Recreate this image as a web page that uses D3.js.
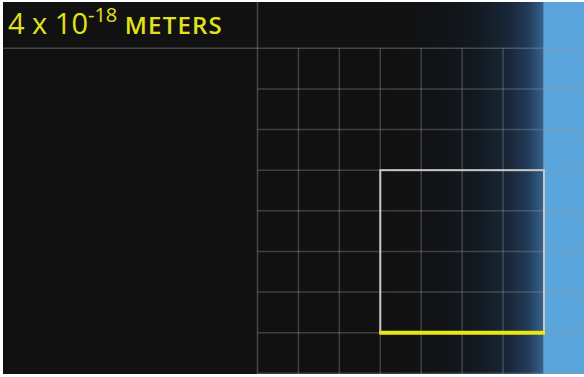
<!DOCTYPE html>
<html>
<head>
<meta charset="utf-8">
<script src="https://cdn.jsdelivr.net/npm/d3@7"></script>
<style>
  html, body { margin: 0; padding: 0; background: #ffffff; }
  svg { display: block; }
</style>
</head>
<body>
<div id="chart"></div>
<script>
// grid cells, counted from the divider line (column 0) and the header line (row 0)
var gridCols = [0, 1, 2, 3, 4, 5, 6, 7, 8];
var gridRows = [0, 1, 2, 3, 4, 5, 6, 7, 8];
// outlined square, in grid units
var boxCols = [3, 7];
var boxRows = [3, 7];
// fade from black into the blue band, column positions of each stop
var fadeCols = [3.2, 4.4, 5.4, 6.1, 6.6, 6.97, 7];
var fadeColors = ['#111111', '#111316', '#131a22', '#182637', '#223b57', '#34608c', '#5aa6dc'];
var titleMain = '4 x 10';
var titleExp = '-18';
var titleUnit = ' METERS';

var W = 584, H = 377;

var svg = d3.select('#chart').append('svg')
  .attr('width', W)
  .attr('height', H);

// outer white frame + dark panel
svg.append('rect').attr('width', W).attr('height', H).attr('fill', '#ffffff');
svg.append('rect')
  .attr('x', 3).attr('y', 2)
  .attr('width', W - 3).attr('height', H - 5)
  .attr('fill', '#111111');

var x = d3.scaleLinear().domain([0, 7]).range([257.5, 544]);
var y = d3.scaleLinear().domain([0, 8]).range([48.3, 373.3]);

// gradient band
var defs = svg.append('defs');
var grad = defs.append('linearGradient')
  .attr('id', 'fade')
  .attr('gradientUnits', 'userSpaceOnUse')
  .attr('x1', x(fadeCols[0])).attr('x2', x(fadeCols[fadeCols.length - 1]))
  .attr('y1', 0).attr('y2', 0);
grad.selectAll('stop').data(fadeCols).join('stop')
  .attr('offset', function(d) { return (d - fadeCols[0]) / (fadeCols[fadeCols.length - 1] - fadeCols[0]); })
  .attr('stop-color', function(d, i) { return fadeColors[i]; });

svg.append('rect')
  .attr('x', x(fadeCols[0])).attr('y', 2)
  .attr('width', x(fadeCols[fadeCols.length - 1]) - x(fadeCols[0]))
  .attr('height', H - 5)
  .attr('fill', 'url(#fade)');
svg.append('rect')
  .attr('x', x(7)).attr('y', 2)
  .attr('width', W - x(7)).attr('height', H - 5)
  .attr('fill', '#5aa6dc');

// grid lines
var g = svg.append('g').attr('class', 'grid');
g.selectAll('line.v').data(gridCols.slice(1)).join('line')
  .attr('class', 'v')
  .attr('x1', function(d) { return x(d); }).attr('x2', function(d) { return x(d); })
  .attr('y1', y(0)).attr('y2', H - 3)
  .attr('stroke', 'rgba(150,150,150,0.35)')
  .attr('stroke-width', 1.5);
g.selectAll('line.h').data(gridRows.slice(1)).join('line')
  .attr('class', 'h')
  .attr('x1', x(0)).attr('x2', W)
  .attr('y1', function(d) { return y(d); }).attr('y2', function(d) { return y(d); })
  .attr('stroke', 'rgba(150,150,150,0.35)')
  .attr('stroke-width', 1.5);

// header line and divider
svg.append('line')
  .attr('x1', 3).attr('x2', W)
  .attr('y1', y(0)).attr('y2', y(0))
  .attr('stroke', 'rgba(150,150,150,0.4)')
  .attr('stroke-width', 1.5);
svg.append('line')
  .attr('x1', x(0)).attr('x2', x(0))
  .attr('y1', 2).attr('y2', H - 3)
  .attr('stroke', 'rgba(150,150,150,0.4)')
  .attr('stroke-width', 1.5);

// outlined square
svg.append('rect')
  .attr('x', x(boxCols[0])).attr('y', y(boxRows[0]))
  .attr('width', x(boxCols[1]) - x(boxCols[0]))
  .attr('height', y(boxRows[1]) - y(boxRows[0]))
  .attr('fill', 'none')
  .attr('stroke', '#c8c8c8')
  .attr('stroke-width', 2);

// yellow scale bar
svg.append('line')
  .attr('x1', x(boxCols[0]) - 1).attr('x2', x(boxCols[1]) + 1)
  .attr('y1', y(boxRows[1])).attr('y2', y(boxRows[1]))
  .attr('stroke', '#e8e812')
  .attr('stroke-width', 4);

// title
var t = svg.append('text')
  .attr('x', 8).attr('y', 34)
  .attr('fill', '#e2e21a')
  .style('font-family', '"Open Sans", "Noto Sans", sans-serif');
t.append('tspan').attr('font-size', 29).text(titleMain);
t.append('tspan').attr('font-size', 20).attr('dy', -12).text(titleExp);
t.append('tspan').attr('font-size', 24).attr('dy', 12).attr('font-weight', 600)
  .attr('letter-spacing', 1.2).text(titleUnit);
</script>
</body>
</html>
